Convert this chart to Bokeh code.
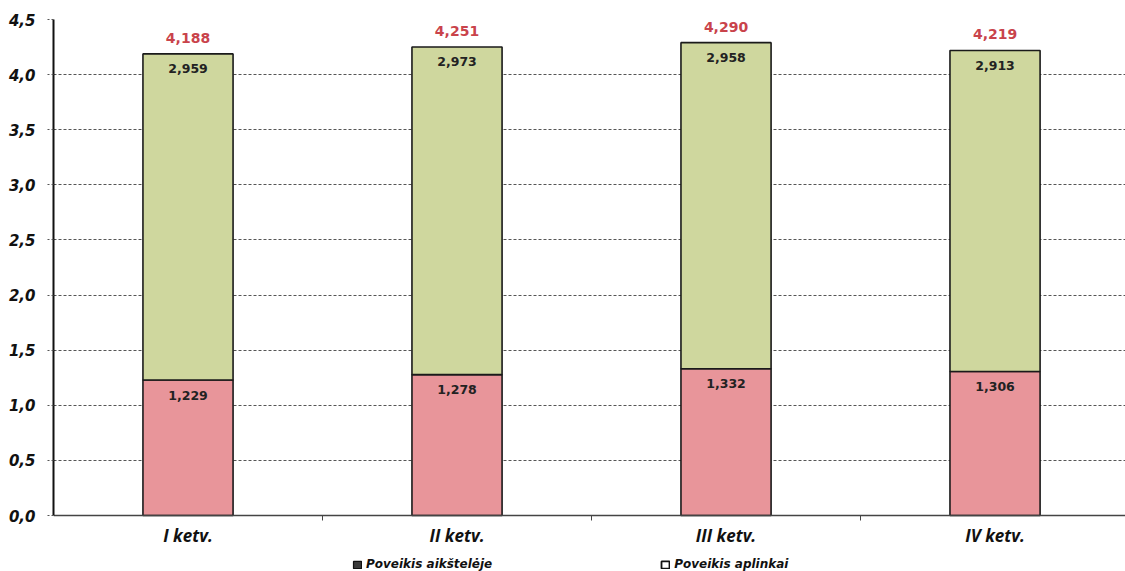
from bokeh.plotting import figure
from bokeh.models import (ColumnDataSource, Range1d, FixedTicker, Legend,
                          LegendItem, LinearAxis)
from bokeh.core.properties import value
from bokeh.embed import file_html
from bokeh.resources import INLINE

# Quarterly values (two stacked components)
quarters = ["I ketv.", "II ketv.", "III ketv.", "IV ketv."]
site_impact = [1.229, 1.278, 1.332, 1.306]      # Poveikis aikštelėje
env_impact = [2.959, 2.973, 2.958, 2.913]       # Poveikis aplinkai
y_tick_values = [0.0, 0.5, 1.0, 1.5, 2.0, 2.5, 3.0, 3.5, 4.0, 4.5]

totals = [a + b for a, b in zip(site_impact, env_impact)]

def fmt(v, nd=3):
    return f"{v:.{nd}f}".replace(".", ",")

xs = [i + 0.5 for i in range(len(quarters))]
src = ColumnDataSource(dict(
    x=xs,
    site=site_impact,
    env=env_impact,
    total=totals,
    site_lbl=[fmt(v) for v in site_impact],
    env_lbl=[fmt(v) for v in env_impact],
    total_lbl=[fmt(v) for v in totals],
))

# The frame runs to the bottom of the canvas so that the category axis
# (pinned at y = 0) and the legend below it share the frame.
p = figure(width=1125, height=571, output_backend="svg", toolbar_location=None,
           x_range=Range1d(0, 3.985), y_range=Range1d(-0.508, 4.5),
           x_axis_location=None,
           min_border_left=53, min_border_right=0, min_border_top=19,
           min_border_bottom=0)
p.outline_line_color = None
p.background_fill_color = "white"
p.border_fill_color = "white"

GREEN = "#cfd79e"
RED = "#e8959a"
bw = 0.335

p.vbar(x="x", bottom=0, top="site", width=bw, source=src,
       fill_color=RED, line_color="#1a1a1a", line_width=1.6)
p.vbar(x="x", bottom="site", top="total", width=bw, source=src,
       fill_color=GREEN, line_color="#1a1a1a", line_width=1.6)

font = value("DejaVu Sans")
p.text(x="x", y="total", text="total_lbl", source=src, text_font=font,
       text_font_style="bold", text_font_size="14px", text_color="#c9434b",
       text_align="center", text_baseline="middle", y_offset=-16)
p.text(x="x", y="total", text="env_lbl", source=src, text_font=font,
       text_font_style="bold", text_font_size="12.5px", text_color="#222222",
       text_align="center", text_baseline="middle", y_offset=15)
p.text(x="x", y="site", text="site_lbl", source=src, text_font=font,
       text_font_style="bold", text_font_size="12.5px", text_color="#222222",
       text_align="center", text_baseline="middle", y_offset=15)

# Y axis
p.yaxis.bounds = (0, 4.5)
p.yaxis.ticker = FixedTicker(ticks=y_tick_values)
p.yaxis.major_label_overrides = {v: fmt(v, 1) for v in y_tick_values}
p.yaxis.major_label_text_font = "DejaVu Sans"
p.yaxis.major_label_text_font_style = "bold italic"
p.yaxis.major_label_text_font_size = "15px"
p.yaxis.major_label_text_color = "#111111"
p.yaxis.axis_line_color = "#111111"
p.yaxis.axis_line_width = 2
p.yaxis.major_tick_out = 6
p.yaxis.major_tick_in = 0
p.yaxis.major_tick_line_color = "#555555"
p.yaxis.major_tick_line_dash = "2 2"
p.yaxis.minor_tick_line_color = None
p.yaxis.major_label_standoff = 12

# Category axis pinned at y = 0: labels at bar centres, ticks between
xaxis = LinearAxis(fixed_location=0)
xaxis.ticker = FixedTicker(ticks=xs, minor_ticks=[1, 2, 3])
xaxis.major_label_overrides = {x: q for x, q in zip(xs, quarters)}
xaxis.major_label_text_font = "Open Sans"
xaxis.major_label_text_font_style = "bold italic"
xaxis.major_label_text_font_size = "17px"
xaxis.major_label_text_color = "#111111"
xaxis.major_label_standoff = 2
xaxis.axis_line_color = "#444444"
xaxis.axis_line_width = 1.5
xaxis.major_tick_line_color = None
xaxis.minor_tick_line_color = "#444444"
xaxis.minor_tick_out = 5
xaxis.minor_tick_in = 0
p.add_layout(xaxis, "below")

p.xgrid.grid_line_color = None
p.ygrid.ticker = FixedTicker(ticks=y_tick_values[1:])
p.ygrid.grid_line_color = "#555555"
p.ygrid.grid_line_dash = "3 2"
p.ygrid.grid_line_width = 1

# Legend swatches: hidden copies of the two series with the legend's own
# dark / hollow square styling
r1 = p.vbar(x="x", bottom=0, top="site", width=bw, source=src,
            fill_color="#3a3a3a", line_color="#111111", line_width=1.2,
            visible=False)
r2 = p.vbar(x="x", bottom="site", top="total", width=bw, source=src,
            fill_color="white", line_color="#111111", line_width=1.8,
            visible=False)
legend = Legend(items=[LegendItem(label="Poveikis aikštelėje", renderers=[r1]),
                       LegendItem(label="Poveikis aplinkai", renderers=[r2])],
                location=(299, 0), orientation="horizontal", spacing=168,
                padding=0, margin=0, border_line_color=None,
                background_fill_alpha=0, glyph_width=10, glyph_height=9,
                label_standoff=4, label_text_font="DejaVu Sans",
                label_text_font_style="bold italic", label_text_font_size="12px",
                label_text_color="#111111", label_height=12,
                inactive_fill_alpha=0, click_policy="none")
p.add_layout(legend, "center")

open("out.html", "w").write(file_html(p, INLINE))
